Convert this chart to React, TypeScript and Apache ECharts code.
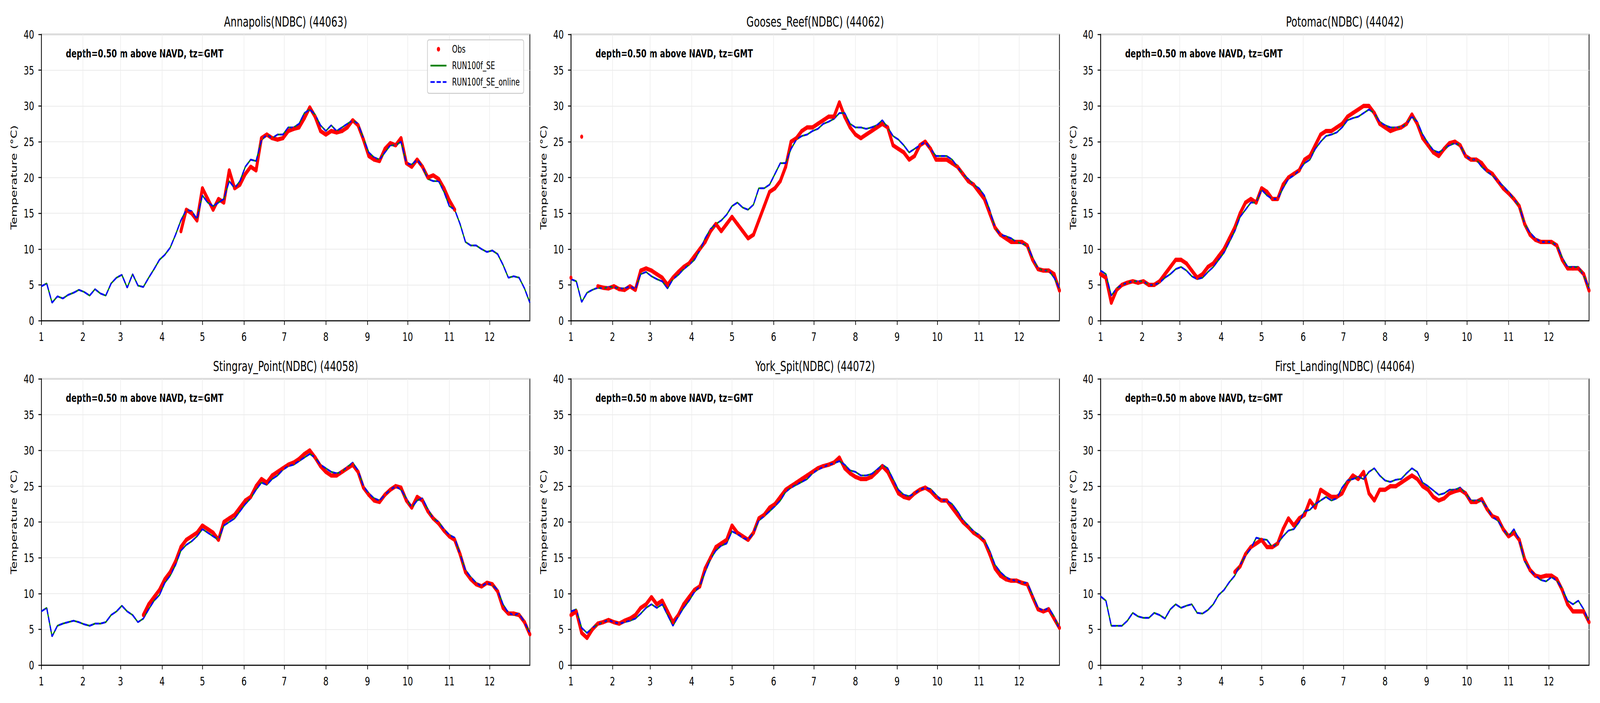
import { useEffect, useRef } from 'react';
import * as echarts from 'echarts';

const _ = null;

// sampling grid: day of year (0 = Jan 1), every 4 days
const DAYS = Array.from({ length: 92 }, (_v, i) => i * 4);
const MONTH_DAYS = [0, 31, 59, 90, 120, 151, 181, 212, 243, 273, 304, 334];
const MONTH_LABELS = ['1', '2', '3', '4', '5', '6', '7', '8', '9', '10', '11', '12'];

const TITLES = [
  'Annapolis(NDBC) (44063)',
  'Gooses_Reef(NDBC) (44062)',
  'Potomac(NDBC) (44042)',
  'Stingray_Point(NDBC) (44058)',
  'York_Spit(NDBC) (44072)',
  'First_Landing(NDBC) (44064)',
];
const NOTE = 'depth=0.50 m above NAVD, tz=GMT';

const annapolisModel = [
  4.8, 5.2, 2.5, 3.4, 3.1, 3.6, 3.9, 4.3, 4.0, 3.5,
  4.4, 3.8, 3.5, 5.2, 6.0, 6.4, 4.6, 6.5, 4.9, 4.7,
  6.0, 7.2, 8.5, 9.2, 10.2, 12.0, 14.0, 15.5, 15.3, 14.2,
  17.5, 16.5, 16.0, 16.5, 17.0, 19.5, 18.5, 19.5, 21.5, 22.5,
  22.3, 25.2, 26.0, 25.5, 26.0, 26.0, 27.0, 27.0, 27.5, 29.0,
  29.5, 28.8, 27.3, 26.5, 27.3, 26.5, 27.0, 27.5, 28.0, 27.5,
  25.5, 23.5, 22.8, 22.5, 23.5, 24.5, 24.5, 25.0, 22.0, 21.8,
  22.5, 21.5, 19.8, 19.5, 19.5, 18.0, 16.0, 15.5, 13.5, 11.0,
  10.5, 10.5, 10.0, 9.6, 9.8, 9.3, 7.8, 6.0, 6.2, 6.0,
  4.5, 2.5,
];
const annapolisObs = [
  _, _, _, _, _, _, _, _, _, _,
  _, _, _, _, _, _, _, _, _, _,
  _, _, _, _, _, _, 12.5, 15.5, 15.0, 14.0,
  18.5, 17.0, 15.5, 17.0, 16.5, 21.0, 18.5, 19.0, 20.5, 21.5,
  21.0, 25.5, 26.0, 25.5, 25.3, 25.5, 26.5, 26.8, 27.0, 28.3,
  29.8, 28.5, 26.5, 26.0, 26.5, 26.3, 26.5, 27.0, 28.0, 27.3,
  25.3, 23.0, 22.5, 22.3, 24.0, 24.8, 24.5, 25.5, 22.0, 21.5,
  22.5, 21.5, 20.0, 20.3, 19.8, 18.5, 16.8, 15.5, _, _,
  _, _, _, _, _, _, _, _, _, _,
  _, _,
];

const goosesModel = [
  5.8, 5.5, 2.6, 3.9, 4.3, 4.6, 4.5, 4.7, 4.7, 4.5,
  4.5, 4.8, 4.4, 6.5, 6.8, 6.2, 5.8, 5.5, 4.5, 5.8,
  6.4, 7.2, 7.8, 8.5, 9.8, 11.5, 12.8, 13.5, 14.0, 14.8,
  16.0, 16.5, 15.8, 15.5, 16.2, 18.5, 18.5, 19.0, 20.5, 22.0,
  22.0, 24.0, 25.3, 25.8, 26.0, 26.5, 26.8, 27.5, 27.8, 28.2,
  29.0, 29.0, 27.5, 27.0, 27.0, 26.8, 27.0, 27.3, 28.0, 27.0,
  25.8, 25.3, 24.5, 23.5, 24.0, 24.5, 25.0, 24.0, 23.0, 23.0,
  23.0, 22.5, 21.5, 20.5, 19.8, 19.0, 18.5, 17.5, 15.5, 13.0,
  12.0, 11.8, 11.5, 11.0, 10.8, 10.5, 8.8, 7.3, 7.0, 7.0,
  6.0, 4.5,
];
const goosesObs = [
  6.0, _, 25.7, _, _, 4.8, 4.6, 4.5, 4.8, 4.4,
  4.3, 4.8, 4.3, 7.0, 7.3, 7.0, 6.5, 6.0, 5.0, 6.0,
  6.8, 7.5, 8.0, 9.0, 10.0, 11.0, 12.5, 13.5, 12.5, 13.5,
  14.5, 13.5, 12.5, 11.5, 12.0, 14.0, 16.0, 18.0, 18.5, 19.5,
  21.5, 25.0, 25.5, 26.5, 27.0, 27.0, 27.5, 28.0, 28.5, 28.5,
  30.5, 28.5, 27.0, 26.0, 25.5, 26.0, 26.5, 27.0, 27.5, 27.0,
  24.5, 24.0, 23.5, 22.5, 23.0, 24.5, 25.0, 24.0, 22.5, 22.5,
  22.5, 22.0, 21.5, 20.5, 19.5, 19.0, 18.0, 17.0, 15.0, 13.0,
  12.0, 11.5, 11.0, 11.0, 11.0, 10.5, 8.5, 7.2, 7.0, 7.0,
  6.5, 4.2,
];

const potomacModel = [
  7.0, 6.5, 3.5, 4.5, 5.0, 5.3, 5.5, 5.5, 5.5, 5.0,
  5.0, 5.3, 6.0, 6.5, 7.2, 7.5, 7.0, 6.2, 5.8, 6.0,
  6.8, 7.5, 8.5, 9.5, 11.0, 12.5, 14.5, 15.5, 16.5, 16.5,
  18.3, 17.5, 17.0, 17.0, 18.5, 19.8, 20.3, 21.0, 22.0, 22.5,
  24.0, 25.0, 25.8, 26.0, 26.3, 27.0, 28.0, 28.3, 28.5, 29.0,
  29.5, 29.0, 27.8, 27.3, 27.0, 27.0, 27.0, 27.5, 28.5, 27.8,
  26.0, 24.8, 23.8, 23.5, 24.0, 24.5, 24.8, 24.5, 23.0, 22.5,
  22.5, 21.5, 20.8, 20.3, 19.5, 18.8, 18.0, 17.0, 16.0, 13.5,
  12.3, 11.5, 11.0, 11.0, 11.0, 10.5, 8.8, 7.5, 7.5, 7.5,
  6.3, 4.5,
];
const potomacObs = [
  6.5, 6.0, 2.5, 4.3, 5.0, 5.3, 5.5, 5.3, 5.5, 5.0,
  5.0, 5.5, 6.5, 7.5, 8.5, 8.5, 8.0, 7.0, 6.0, 6.5,
  7.5, 8.0, 9.0, 10.0, 11.5, 13.0, 15.0, 16.5, 17.0, 16.5,
  18.5, 18.0, 17.0, 17.0, 19.0, 20.0, 20.5, 21.0, 22.5, 23.0,
  24.5, 26.0, 26.5, 26.5, 27.0, 27.5, 28.5, 29.0, 29.5, 30.0,
  30.0, 29.0, 27.5, 27.0, 26.5, 26.8, 27.0, 27.5, 28.8, 27.5,
  25.5, 24.5, 23.5, 23.0, 24.0, 24.8, 25.0, 24.5, 23.0, 22.5,
  22.5, 22.0, 21.0, 20.5, 19.5, 18.5, 17.8, 17.0, 16.0, 13.5,
  12.0, 11.3, 11.0, 11.0, 11.0, 10.5, 8.5, 7.3, 7.3, 7.3,
  6.5, 4.2,
];

const stingrayModel = [
  7.5, 8.0, 4.0, 5.5, 5.8, 6.0, 6.2, 6.0, 5.7, 5.5,
  5.8, 5.8, 6.0, 7.0, 7.5, 8.3, 7.5, 7.0, 6.0, 6.5,
  7.8, 9.0, 9.8, 11.5, 12.5, 14.0, 16.0, 16.8, 17.3, 18.0,
  19.0, 18.5, 18.0, 17.5, 19.5, 20.0, 20.5, 21.5, 22.5, 23.3,
  24.5, 25.5, 25.2, 26.0, 26.5, 27.3, 27.8, 28.0, 28.5, 29.0,
  29.5, 29.0, 28.0, 27.5, 27.0, 26.8, 27.0, 27.7, 28.3, 27.2,
  25.0, 24.0, 23.3, 23.0, 23.8, 24.5, 25.0, 24.5, 23.3, 22.0,
  23.0, 23.3, 21.8, 20.5, 20.0, 19.0, 18.2, 17.8, 15.5, 13.3,
  12.3, 11.5, 11.0, 11.5, 11.2, 10.5, 8.5, 7.3, 7.0, 7.2,
  6.0, 4.5,
];
const stingrayObs = [
  _, _, _, _, _, _, _, _, _, _,
  _, _, _, _, _, _, _, _, _, 7.0,
  8.5, 9.5, 10.5, 12.0, 13.0, 14.5, 16.5, 17.5, 18.0, 18.5,
  19.5, 19.0, 18.5, 17.5, 20.0, 20.5, 21.0, 22.0, 23.0, 23.5,
  25.0, 26.0, 25.5, 26.5, 27.0, 27.5, 28.0, 28.3, 28.8, 29.5,
  30.0, 29.0, 27.8, 27.0, 26.5, 26.5, 27.0, 27.5, 28.0, 27.0,
  24.8, 23.8, 23.0, 22.8, 23.8, 24.5, 25.0, 24.8, 23.0, 22.0,
  23.5, 23.0, 21.5, 20.5, 19.8, 18.8, 18.0, 17.5, 15.5, 13.0,
  12.0, 11.3, 11.0, 11.5, 11.3, 10.3, 8.0, 7.2, 7.2, 7.0,
  6.0, 4.3,
];

const yorkModel = [
  7.5, 7.8, 5.2, 4.5, 5.2, 5.7, 6.0, 6.3, 6.0, 5.8,
  6.0, 6.2, 6.5, 7.2, 8.0, 8.5, 8.0, 8.5, 7.0, 5.5,
  6.8, 8.0, 9.0, 10.2, 11.0, 13.0, 14.8, 16.0, 16.7, 17.0,
  18.7, 18.3, 17.8, 17.5, 18.5, 20.2, 20.8, 21.5, 22.2, 23.0,
  24.2, 24.8, 25.2, 25.6, 26.0, 26.8, 27.3, 27.7, 28.0, 28.2,
  28.5, 28.0, 27.2, 27.0, 26.5, 26.5, 26.7, 27.3, 28.0, 27.5,
  26.0, 24.5, 23.8, 23.6, 24.0, 24.5, 24.8, 24.6, 23.8, 23.0,
  23.0, 22.5, 21.5, 20.3, 19.5, 18.7, 18.2, 17.5, 16.0, 14.0,
  13.0, 12.3, 11.9, 11.8, 11.5, 11.5, 9.8, 8.0, 7.6, 8.0,
  6.8, 5.0,
];
const yorkObs = [
  7.0, 7.5, 4.5, 3.8, 5.0, 5.8, 6.0, 6.3, 6.0, 5.8,
  6.2, 6.5, 7.0, 8.0, 8.5, 9.5, 8.5, 9.0, 7.5, 6.0,
  7.0, 8.5, 9.5, 10.5, 11.0, 13.5, 15.0, 16.5, 17.0, 17.5,
  19.5, 18.5, 18.0, 17.5, 18.5, 20.5, 21.0, 22.0, 22.5, 23.5,
  24.5, 25.0, 25.5, 26.0, 26.5, 27.0, 27.5, 27.8, 28.0, 28.3,
  29.0, 27.5, 26.8, 26.3, 26.0, 26.0, 26.3, 27.0, 27.8, 27.0,
  25.5, 24.0, 23.5, 23.3, 24.0, 24.5, 24.8, 24.3, 23.5, 23.0,
  23.0, 22.0, 21.0, 20.0, 19.3, 18.5, 18.0, 17.3, 15.5, 13.5,
  12.5, 12.0, 11.8, 11.8, 11.5, 11.3, 9.5, 7.8, 7.5, 7.8,
  6.5, 5.2,
];

const firstLandingModel = [
  9.6, 9.0, 5.5, 5.5, 5.5, 6.2, 7.3, 6.8, 6.6, 6.6,
  7.3, 7.0, 6.5, 7.8, 8.5, 8.0, 8.3, 8.5, 7.3, 7.2,
  7.7, 8.5, 9.8, 10.5, 11.6, 12.5, 14.0, 15.3, 16.3, 17.8,
  17.6, 17.5, 16.5, 17.0, 18.0, 18.8, 19.0, 20.0, 21.5, 21.7,
  22.5, 23.0, 23.5, 23.0, 23.3, 24.8, 25.8, 26.0, 26.3, 26.0,
  27.0, 27.5, 26.5, 25.8, 25.6, 25.9, 26.0, 26.8, 27.5, 27.0,
  25.5, 25.0, 24.4, 23.8, 24.0, 24.5, 24.5, 24.8, 24.0, 23.0,
  23.0, 23.0, 22.0, 20.7, 20.2, 19.0, 18.0, 19.0, 17.5, 14.5,
  13.3, 12.5, 11.9, 11.7, 12.3, 11.8, 10.7, 9.0, 8.5, 9.0,
  7.8, 6.0,
];
const firstLandingObs = [
  _, _, _, _, _, _, _, _, _, _,
  _, _, _, _, _, _, _, _, _, _,
  _, _, _, _, _, 13.0, 13.8, 15.5, 16.5, 17.0,
  17.5, 16.5, 16.5, 17.0, 19.0, 20.5, 19.5, 20.5, 21.0, 23.0,
  22.0, 24.5, 24.0, 23.5, 23.5, 24.0, 25.5, 26.5, 26.0, 27.0,
  24.0, 23.0, 24.5, 24.5, 25.0, 25.0, 25.5, 26.0, 26.5, 26.0,
  25.0, 24.5, 23.5, 23.0, 23.3, 24.0, 24.3, 24.5, 24.0, 22.8,
  22.8, 23.2, 21.8, 20.8, 20.5, 19.0, 18.0, 18.5, 17.5, 14.8,
  13.3, 12.5, 12.3, 12.5, 12.5, 12.0, 10.5, 8.5, 7.5, 7.5,
  7.5, 6.0,
];

const MODELS = [annapolisModel, goosesModel, potomacModel, stingrayModel, yorkModel, firstLandingModel];
const OBS = [annapolisObs, goosesObs, potomacObs, stingrayObs, yorkObs, firstLandingObs];

const FONT = '"DejaVu Sans", "Liberation Sans", sans-serif';
const COL_LEFT = [155, 2141, 4127];
const ROW_TOP = [88, 970];
const PW = 1832;
const PH = 733;

function pairs(vals: (number | null)[]) {
  return DAYS.map((d, i) => [d, vals[i] === null ? null : vals[i]]);
}

function buildOption() {
  const grid: any[] = [];
  const xAxis: any[] = [];
  const yAxis: any[] = [];
  const series: any[] = [];
  const title: any[] = [];
  const graphic: any[] = [];

  for (let p = 0; p < 6; p++) {
    const left = COL_LEFT[p % 3];
    const top = ROW_TOP[Math.floor(p / 3)];
    grid.push({
      left, top, width: PW, height: PH,
      show: true, borderColor: '#000', borderWidth: 2.7, backgroundColor: 'transparent',
      containLabel: false, outerBoundsMode: 'none',
    });
    xAxis.push({
      type: 'value', gridIndex: p, min: 0, max: 364,
      axisLine: { show: true, onZero: false, lineStyle: { color: '#000', width: 2.7 } },
      axisTick: { show: true, customValues: MONTH_DAYS, length: 11, lineStyle: { color: '#000', width: 2.5 } },
      axisLabel: {
        show: true, customValues: MONTH_DAYS, margin: 25, fontSize: 31, fontFamily: FONT, color: '#000',
        formatter: (v: number) => {
          const k = MONTH_DAYS.indexOf(Math.round(v));
          return k >= 0 ? MONTH_LABELS[k] : '';
        },
      },
      splitLine: { show: true, lineStyle: { color: '#ebebeb', width: 2 } },
    });
    yAxis.push({
      type: 'value', gridIndex: p, min: 0, max: 40, interval: 5,
      name: 'Temperature (°C)', nameLocation: 'middle', nameRotate: 90, nameGap: 87,
      nameTextStyle: { fontSize: 31, fontFamily: FONT, color: '#000' },
      axisLine: { show: true, lineStyle: { color: '#000', width: 2.7 } },
      axisTick: { show: true, length: 11, lineStyle: { color: '#000', width: 2.5 } },
      axisLabel: { margin: 27, fontSize: 31, fontFamily: FONT, color: '#000' },
      splitLine: { show: true, lineStyle: { color: '#ebebeb', width: 2 } },
    });
    title.push({
      text: TITLES[p], left: left + PW / 2, top: top - 32.5, padding: 0,
      textAlign: 'center', textVerticalAlign: 'middle',
      textStyle: { fontSize: 36, fontWeight: 'normal', fontFamily: FONT, color: '#000' },
    });
    graphic.push({
      type: 'text', x: left + 92, y: top + 49, silent: true,
      style: {
        text: NOTE, fontSize: 29, fontWeight: 'bold', fontFamily: FONT, fill: '#000',
        textAlign: 'left', textVerticalAlign: 'middle',
      },
    });
    series.push({
      name: 'Obs', type: 'line', xAxisIndex: p, yAxisIndex: p,
      data: pairs(OBS[p]), connectNulls: false,
      symbol: 'circle', symbolSize: 11, showSymbol: true, showAllSymbol: true,
      itemStyle: { color: '#ff0000' },
      lineStyle: { color: '#ff0000', width: 11 },
      silent: true,
    });
    series.push({
      name: 'RUN100f_SE', type: 'line', xAxisIndex: p, yAxisIndex: p,
      data: pairs(MODELS[p]), symbol: 'none', showSymbol: false,
      itemStyle: { color: '#008000' },
      lineStyle: { color: '#008000', width: 4.5 },
      silent: true,
    });
    series.push({
      name: 'RUN100f_SE_online', type: 'line', xAxisIndex: p, yAxisIndex: p,
      data: pairs(MODELS[p]), symbol: 'none', showSymbol: false,
      itemStyle: { color: '#0000ff' },
      lineStyle: { color: '#0000ff', width: 4.5, type: [16, 7] },
      silent: true,
    });
  }

  return {
    animation: false,
    backgroundColor: '#ffffff',
    title,
    grid,
    xAxis,
    yAxis,
    series,
    graphic,
    legend: {
      show: true, orient: 'vertical', left: 1603, top: 102,
      padding: [9, 15, 14, 9], itemGap: 12, itemWidth: 60, itemHeight: 12,
      backgroundColor: 'rgba(255,255,255,0.8)', borderColor: '#cccccc', borderWidth: 2.5, borderRadius: 6,
      selectedMode: false,
      textStyle: { fontSize: 26, fontFamily: FONT, color: '#000', lineHeight: 30, padding: [0, 0, 0, 16] },
      data: [
        { name: 'Obs', icon: 'circle' },
        { name: 'RUN100f_SE', itemStyle: { opacity: 0 }, lineStyle: { width: 4.5 } },
        { name: 'RUN100f_SE_online', itemStyle: { opacity: 0 }, lineStyle: { width: 4.5 } },
      ],
    },
  };
}

// The chart is laid out on a 6000x1800 design canvas; if the real viewport is
// smaller (the browser may clamp the window), the canvas is scaled to fill it.
function viewScale() {
  if (typeof window === 'undefined') return { sx: 1, sy: 1 };
  const w = window.innerWidth || 6000;
  const h = window.innerHeight || 1800;
  return { sx: Math.min(1, w / 6000), sy: Math.min(1, h / 1800) };
}

export default function App() {
  const ref = useRef<HTMLDivElement>(null);
  const { sx, sy } = viewScale();
  useEffect(() => {
    document.body.style.margin = '0';
    const chart = echarts.init(ref.current as HTMLDivElement, null, { renderer: 'svg', width: 6000, height: 1800 });
    chart.setOption(buildOption() as any);
    return () => chart.dispose();
  }, []);
  return (
    <div style={{ width: 6000 * sx, height: 1800 * sy, overflow: 'hidden', position: 'relative', background: '#fff' }}>
      <div style={{ position: 'absolute', left: 0, top: 0, width: 6000, height: 1800, transform: `scale(${sx}, ${sy})`, transformOrigin: '0 0' }}>
        <div ref={ref} style={{ width: 6000, height: 1800, background: '#ffffff' }} />
      </div>
    </div>
  );
}
